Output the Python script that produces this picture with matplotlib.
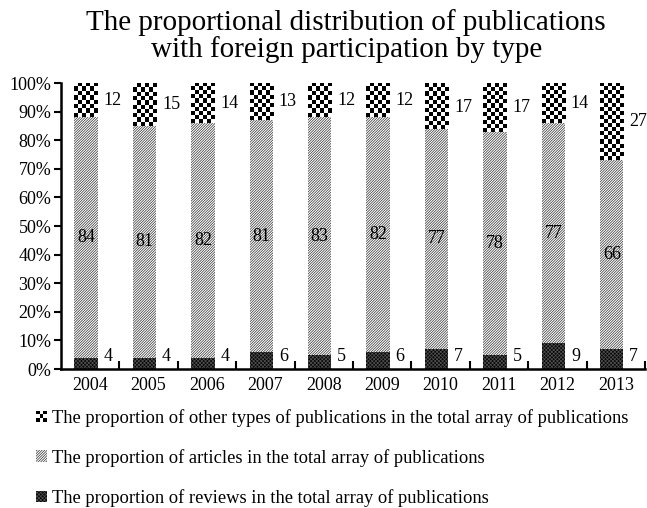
import numpy as np
import matplotlib
matplotlib.use("Agg")
import matplotlib.pyplot as plt
from matplotlib.patches import Patch, Rectangle
from matplotlib.legend_handler import HandlerBase

plt.rcParams["font.family"] = "Liberation Serif"
plt.rcParams["hatch.linewidth"] = 0.5

years = ["2004", "2005", "2006", "2007", "2008", "2009", "2010", "2011", "2012", "2013"]
reviews = [4, 4, 4, 6, 5, 6, 7, 5, 9, 7]
articles = [84, 81, 82, 81, 83, 82, 77, 78, 77, 66]
others = [12, 15, 14, 13, 12, 12, 17, 17, 14, 27]

legend_labels = [
    "The proportion of other types of publications in the total array of publications",
    "The proportion of articles in the total array of publications",
    "The proportion of reviews in the total array of publications",
]


class HandlerChecker(HandlerBase):
    # small black/white checker square for the legend
    def create_artists(self, legend, orig_handle, xdescent, ydescent,
                       width, height, fontsize, trans):
        n = 3
        s = min(width, height) / n
        x0 = -xdescent
        y0 = -ydescent + (height - n * s) / 2
        arts = []
        for i in range(n):
            for j in range(n):
                if (i + j) % 2 == 0:
                    arts.append(Rectangle((x0 + j * s, y0 + i * s), s, s,
                                          facecolor="black", lw=0, transform=trans))
        return arts


fig = plt.figure(figsize=(6.47, 5.08), dpi=100)
ax = fig.add_axes([0.0943, 0.2736, 0.9027, 0.563])

x = np.arange(len(years)) - 0.07
w = 0.4
reviews = np.array(reviews)
articles = np.array(articles)
others = np.array(others)
base_o = reviews + articles

rev_style = dict(facecolor="#080808", edgecolor="#505050", hatch="x" * 9, lw=0)
art_style = dict(facecolor="white", edgecolor="#303030", hatch="/" * 13, lw=0)

ax.bar(x, reviews, w, **rev_style)
ax.bar(x, articles, w, bottom=reviews, **art_style)
ax.bar(x, others, w, bottom=base_o, facecolor="white", lw=0)

# checkerboard fill for the "other" segments
sq = 1.45  # square height in percent
for xi, b, h in zip(x, base_o, others):
    top = min(b + h, 100)
    nr = max(int(round((top - b) / sq)), 1)
    grid = (np.add.outer(np.arange(nr), np.arange(6)) % 2).astype(float)
    ax.imshow(grid, extent=(xi - w / 2, xi + w / 2, b, top), aspect="auto",
              cmap="gray", interpolation="nearest", origin="lower", zorder=3)

for xi, r, a, o in zip(x, reviews, articles, others):
    ax.text(xi + w / 2 + 0.1, 4.5, str(r), ha="left", va="center", fontsize=13)
    ax.text(xi, r + a / 2, str(a), ha="center", va="center", fontsize=13, zorder=5)
    ax.text(xi + w / 2 + 0.1, 100 - o / 2, str(o), ha="left", va="center", fontsize=13)

ax.set_xlim(-0.5, len(years) - 0.5)
ax.set_ylim(0, 100)
ax.set_yticks(np.arange(0, 101, 10))
ax.set_yticklabels([f"{v}%" for v in range(0, 101, 10)], fontsize=13)
ax.set_xticks(np.arange(len(years)))
ax.set_xticklabels(years, fontsize=13)
ax.set_xticks(np.arange(len(years)) + 0.5, minor=True)
ax.tick_params(axis="x", which="major", length=0, pad=6)
ax.tick_params(axis="x", which="minor", direction="in", length=6, width=1.5)
ax.tick_params(axis="y", direction="out", length=5, width=1.5, pad=2)
for s in ["top", "right"]:
    ax.spines[s].set_visible(False)
for s in ["left", "bottom"]:
    ax.spines[s].set_linewidth(1.8)

fig.text(0.535, 0.929, "The proportional distribution of publications\nwith foreign participation by type",
         ha="center", va="center", fontsize=21, linespacing=0.97)

handles = [
    Patch(facecolor="black"),
    Patch(**art_style),
    Patch(**rev_style),
]
fig.legend(handles, legend_labels, loc="upper left", bbox_to_anchor=(0.044, 0.210),
           frameon=False, fontsize=13.3, handlelength=0.6, handleheight=0.6,
           handletextpad=0.3, labelspacing=1.21, borderaxespad=0,
           handler_map={handles[0]: HandlerChecker()})

fig.savefig("out.png", dpi=100)
